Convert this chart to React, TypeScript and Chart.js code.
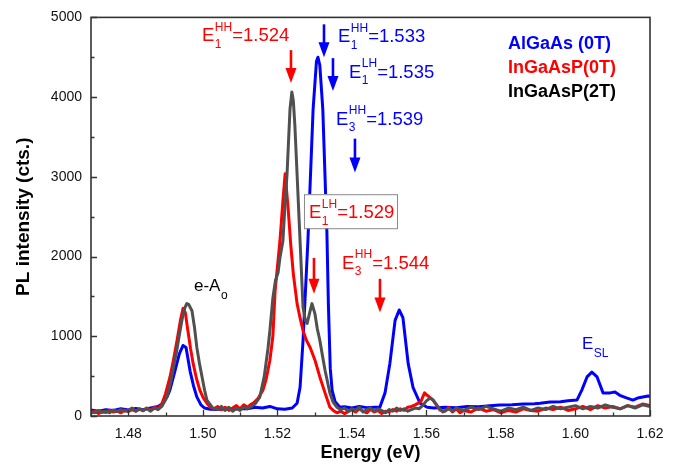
import React, { useEffect, useRef } from "react";
import { Chart, registerables } from "chart.js";

Chart.register(...registerables);

const FONT = "'Liberation Sans', Arial, Helvetica, sans-serif";
const BLUE = "#0000ff";
const RED = "#ff0000";
const GRAY = "#505050";

// ---------- data ----------
const SERIES_NAMES = ["AlGaAs (0T)", "InGaAsP(0T)", "InGaAsP(2T)"];
const X_TICKS = [1.48, 1.5, 1.52, 1.54, 1.56, 1.58, 1.6, 1.62];
const Y_TICKS = [0, 1000, 2000, 3000, 4000, 5000];

const ALGAAS_E = [
  1.47, 1.472, 1.474, 1.476, 1.478, 1.48, 1.482, 1.484, 1.486, 1.488, 1.4893, 1.4905, 1.4912, 1.4925,
  1.4937, 1.4947, 1.4955, 1.4966, 1.4975, 1.4984, 1.4995, 1.5005, 1.502, 1.504, 1.506, 1.508, 1.51,
  1.512, 1.514, 1.516, 1.518, 1.52, 1.522, 1.524, 1.5253, 1.5261, 1.5269, 1.5282, 1.5296, 1.5305,
  1.5309, 1.5314, 1.5322, 1.5328, 1.5333, 1.5337, 1.5342, 1.5347, 1.5355, 1.5368, 1.538, 1.54, 1.542,
  1.544, 1.546, 1.5475, 1.5489, 1.5502, 1.5516, 1.5527, 1.5537, 1.5551, 1.5564, 1.5583, 1.5602, 1.562,
  1.565, 1.568, 1.571, 1.574, 1.577, 1.5797, 1.583, 1.586, 1.589, 1.5905, 1.5932, 1.596, 1.598, 1.6004,
  1.6017, 1.6031, 1.6044, 1.6058, 1.6074, 1.6093, 1.6106, 1.6119, 1.6135, 1.6154, 1.617, 1.6195, 1.62,
];
const ALGAAS_I = [
  75, 60, 80, 70, 90, 75, 95, 80, 100, 120, 160, 250, 330, 560,
  780, 885, 860, 560, 380, 240, 140, 100, 85, 80, 90, 85, 95,
  90, 110, 100, 120, 90, 85, 100, 160, 360, 950, 2195, 3850, 4450,
  4500, 4400, 3850, 3000, 2300, 1400, 600, 320, 180, 110, 115, 100, 120,
  105, 110, 110, 290, 660, 1200, 1330, 1235, 660, 360, 160, 110, 100,
  110, 105, 120, 115, 130, 137, 140, 150, 155, 160, 175, 180, 190, 200,
  325, 490, 550, 490, 290, 290, 300, 260, 230, 200, 230, 250, 245,
];

const INGAASP0_E = [
  1.47, 1.471, 1.472, 1.473, 1.474, 1.475, 1.476, 1.477, 1.478, 1.479, 1.48, 1.481, 1.482, 1.483, 1.484,
  1.485, 1.486, 1.487, 1.488, 1.489, 1.49, 1.4912, 1.4922, 1.4931, 1.494, 1.4947, 1.4953, 1.496, 1.4967,
  1.4974, 1.4983, 1.4992, 1.5001, 1.5011, 1.502, 1.503, 1.504, 1.505, 1.506, 1.507, 1.508, 1.509, 1.51,
  1.511, 1.512, 1.513, 1.5135, 1.5148, 1.5161, 1.517, 1.518, 1.5188, 1.5194, 1.5207, 1.5215, 1.5221,
  1.5229, 1.5236, 1.5243, 1.5253, 1.5261, 1.5269, 1.5278, 1.5288, 1.5301, 1.5314, 1.5328, 1.5341, 1.535,
  1.536, 1.537, 1.538, 1.539, 1.54, 1.541, 1.542, 1.543, 1.544, 1.545, 1.546, 1.547, 1.548, 1.549, 1.55,
  1.551, 1.552, 1.553, 1.554, 1.555, 1.556, 1.557, 1.5585, 1.5595, 1.5602, 1.561, 1.5618, 1.5625, 1.5636,
  1.565, 1.566, 1.567, 1.568, 1.569, 1.57, 1.572, 1.574, 1.576, 1.578, 1.58, 1.582, 1.584, 1.586, 1.588,
  1.59, 1.592, 1.594, 1.596, 1.598, 1.6, 1.602, 1.604, 1.606, 1.608, 1.61, 1.612, 1.614, 1.616, 1.618, 1.62,
];
const INGAASP0_I = [
  40, 60, 30, 55, 45, 70, 50, 65, 40, 75, 55, 80, 60, 90, 65,
  100, 75, 110, 90, 150, 280, 490, 720, 950, 1200, 1350, 1300, 1070, 850,
  660, 470, 325, 230, 160, 110, 90, 120, 80, 110, 70, 100, 130, 90,
  140, 110, 150, 160, 220, 320, 460, 700, 1000, 1570, 2195, 2700, 3040,
  2600, 2150, 1780, 1410, 1230, 1070, 950, 860, 700, 490, 290, 110, 70,
  40, 60, 30, 55, 80, 50, 90, 60, 40, 85, 50, 70, 30, 60, 50,
  80, 60, 90, 70, 110, 120, 140, 180, 290, 260, 230, 200, 150, 75,
  60, 110, 50, 90, 40, 70, 50, 100, 60, 80, 40, 70, 50, 90, 70,
  60, 100, 80, 110, 70, 90, 120, 80, 130, 100, 120, 90, 130, 110, 150, 130,
];

const INGAASP2_E = [
  1.47, 1.471, 1.472, 1.473, 1.474, 1.475, 1.476, 1.477, 1.478, 1.479, 1.48, 1.481, 1.482, 1.483, 1.484,
  1.485, 1.486, 1.487, 1.488, 1.489, 1.4904, 1.4912, 1.492, 1.493, 1.4939, 1.4946, 1.4952, 1.4957, 1.4962,
  1.4971, 1.4978, 1.4984, 1.4991, 1.4998, 1.5005, 1.5011, 1.5027, 1.504, 1.505, 1.506, 1.507, 1.508, 1.509,
  1.51, 1.511, 1.512, 1.513, 1.514, 1.5153, 1.5165, 1.5175, 1.518, 1.5188, 1.5195, 1.5202, 1.5207, 1.5215,
  1.522, 1.5226, 1.5234, 1.5239, 1.5243, 1.5247, 1.5253, 1.5261, 1.5269, 1.5275, 1.528, 1.5287, 1.5293,
  1.5301, 1.5307, 1.5314, 1.5321, 1.5328, 1.5335, 1.5341, 1.535, 1.536, 1.537, 1.538, 1.539, 1.54, 1.541,
  1.542, 1.543, 1.544, 1.545, 1.546, 1.547, 1.548, 1.549, 1.55, 1.551, 1.552, 1.553, 1.554, 1.555, 1.556,
  1.557, 1.558, 1.5591, 1.56, 1.561, 1.5618, 1.5628, 1.5636, 1.5644, 1.566, 1.567, 1.568, 1.57, 1.572,
  1.574, 1.576, 1.578, 1.58, 1.582, 1.584, 1.586, 1.588, 1.59, 1.592, 1.594, 1.596, 1.598, 1.6, 1.602,
  1.604, 1.606, 1.608, 1.61, 1.612, 1.614, 1.616, 1.618, 1.62,
];
const INGAASP2_I = [
  50, 40, 70, 45, 60, 40, 75, 55, 80, 60, 70, 100, 60, 85, 70,
  95, 60, 100, 80, 120, 237, 380, 574, 820, 1070, 1250, 1360, 1410, 1400,
  1320, 1100, 860, 660, 490, 320, 200, 100, 80, 120, 70, 110, 60, 95,
  70, 110, 90, 120, 150, 237, 500, 850, 1070, 1480, 1700, 1800, 1985, 2195,
  2600, 3030, 3850, 4065, 3950, 3650, 3030, 2195, 1360, 1200, 1160, 1300, 1410,
  1280, 1100, 950, 760, 574, 420, 290, 170, 110, 80, 100, 60, 90, 70,
  110, 50, 80, 100, 60, 90, 70, 40, 80, 60, 100, 70, 90, 60, 80,
  100, 90, 137, 190, 225, 200, 137, 90, 50, 90, 60, 100, 70, 110,
  80, 120, 90, 60, 100, 80, 110, 70, 100, 80, 120, 90, 110, 130, 90,
  120, 100, 140, 110, 90, 130, 100, 140, 120,
];

// transition labels: anchor (energy, intensity) of the text baseline start
const LEVEL_BASE = ["E", "E", "E", "E", "E", "E", "e-A", "E"];
const LEVEL_SUB = ["1", "1", "1", "3", "1", "3", "o", "SL"];
const LEVEL_SUP = ["HH", "HH", "LH", "HH", "LH", "HH", "", ""];
const LEVEL_VALUE = ["=1.524", "=1.533", "=1.535", "=1.539", "=1.529", "=1.544", "", ""];
const LEVEL_SERIES = [1, 0, 0, 0, 1, 1, 2, 0];
const LEVEL_E = [1.49978, 1.53627, 1.53922, 1.53574, 1.52849, 1.53735, 1.49764, 1.60174];
const LEVEL_I = [4701, 4688, 4240, 3653, 2481, 1845, 1571, 835];
const LEVEL_BOXED = [false, false, false, false, true, false, false, false];

// arrows: energy, start intensity, tip intensity
const ARROW_E = [1.52366, 1.53252, 1.53493, 1.54083, 1.52983, 1.54754];
const ARROW_FROM = [4589, 4913, 4489, 3479, 1983, 1721];
const ARROW_TO = [4177, 4501, 4077, 3055, 1534, 1297];
const ARROW_SERIES = [1, 0, 0, 0, 1, 1];

const SERIES_COLORS = [BLUE, RED, "#000000"];
const LINE_COLORS = [BLUE, RED, GRAY];

function pts(e: number[], v: number[]) {
  return e.map((x, k) => ({ x, y: v[k] }));
}

function drawLevel(ctx: CanvasRenderingContext2D, px: number, py: number, k: number) {
  const size = LEVEL_BASE[k] === "E" && LEVEL_VALUE[k] ? 18.5 : 17;
  const small = 12;
  ctx.fillStyle = k === 6 ? "#000" : SERIES_COLORS[LEVEL_SERIES[k]];
  ctx.textAlign = "left";
  ctx.textBaseline = "alphabetic";
  ctx.font = `${size}px ${FONT}`;
  ctx.fillText(LEVEL_BASE[k], px, py);
  let w = ctx.measureText(LEVEL_BASE[k]).width;
  ctx.font = `${small}px ${FONT}`;
  let ws = 0;
  let wp = 0;
  const subOff = LEVEL_VALUE[k] ? 6.5 : 8;
  if (LEVEL_SUB[k]) {
    ctx.fillText(LEVEL_SUB[k], px + w + 0.5, py + subOff);
    ws = ctx.measureText(LEVEL_SUB[k]).width;
  }
  if (LEVEL_SUP[k]) {
    ctx.fillText(LEVEL_SUP[k], px + w + 0.5, py - 10.5);
    wp = ctx.measureText(LEVEL_SUP[k]).width;
  }
  w += Math.max(ws, wp) + 0.5;
  if (LEVEL_VALUE[k]) {
    ctx.font = `${size}px ${FONT}`;
    ctx.fillText(LEVEL_VALUE[k], px + w, py);
    w += ctx.measureText(LEVEL_VALUE[k]).width;
  }
  return w;
}

const decorPlugin = {
  id: "decor",
  afterDatasetsDraw(chart: any) {
    const { ctx, chartArea: ca, scales } = chart;
    const xs = scales.x;
    const ys = scales.y;
    ctx.save();

    // inward tick marks (major + minor)
    ctx.strokeStyle = "#333";
    ctx.lineWidth = 1.3;
    ctx.beginPath();
    for (let k = 0; k <= 15; k++) {
      const v = 1.47 + k * 0.01;
      const px = Math.round(xs.getPixelForValue(v)) + 0.5;
      const major = X_TICKS.some((t) => Math.abs(t - v) < 1e-6);
      ctx.moveTo(px, ca.bottom);
      ctx.lineTo(px, ca.bottom - (major ? 6 : 3.5));
    }
    for (let k = 0; k <= 10; k++) {
      const v = k * 500;
      const py = Math.round(ys.getPixelForValue(v)) + 0.5;
      const major = Y_TICKS.includes(v);
      ctx.moveTo(ca.left, py);
      ctx.lineTo(ca.left + (major ? 6 : 3.5), py);
    }
    ctx.stroke();

    // frame
    ctx.strokeStyle = "#333";
    ctx.lineWidth = 1.6;
    ctx.strokeRect(ca.left, ca.top, ca.right - ca.left, ca.bottom - ca.top);

    // arrows
    for (let k = 0; k < ARROW_E.length; k++) {
      const color = SERIES_COLORS[ARROW_SERIES[k]];
      const px = xs.getPixelForValue(ARROW_E[k]);
      const y0 = ys.getPixelForValue(ARROW_FROM[k]);
      const y1 = ys.getPixelForValue(ARROW_TO[k]);
      const head = 15;
      const hw = 5.5;
      ctx.strokeStyle = color;
      ctx.fillStyle = color;
      ctx.lineWidth = 2.6;
      ctx.beginPath();
      ctx.moveTo(px, y0);
      ctx.lineTo(px, y1 - head + 2);
      ctx.stroke();
      ctx.beginPath();
      ctx.moveTo(px - hw, y1 - head);
      ctx.lineTo(px + hw, y1 - head);
      ctx.lineTo(px, y1);
      ctx.closePath();
      ctx.fill();
    }

    // level labels
    for (let k = 0; k < LEVEL_E.length; k++) {
      const px = xs.getPixelForValue(LEVEL_E[k]);
      const py = ys.getPixelForValue(LEVEL_I[k]);
      if (LEVEL_BOXED[k]) {
        ctx.font = `18.5px ${FONT}`;
        ctx.fillStyle = "#fff";
        ctx.fillRect(px - 5, py - 24, 93, 34);
        ctx.strokeStyle = "#8a8a8a";
        ctx.lineWidth = 1;
        ctx.strokeRect(px - 5 + 0.5, py - 24 + 0.5, 93, 34);
      }
      drawLevel(ctx, px, py, k);
    }

    // legend (text only)
    ctx.textAlign = "left";
    ctx.textBaseline = "alphabetic";
    ctx.font = `bold 18px ${FONT}`;
    for (let k = 0; k < SERIES_NAMES.length; k++) {
      ctx.fillStyle = SERIES_COLORS[k];
      ctx.fillText(SERIES_NAMES[k], ca.left + 417, ca.top + 32 + k * 24);
    }
    ctx.restore();
  },
};

export default function App() {
  const ref = useRef<HTMLCanvasElement | null>(null);

  useEffect(() => {
    if (!ref.current) return;
    const chart = new Chart(ref.current, {
      type: "line",
      data: {
        datasets: [
          { label: SERIES_NAMES[0], data: pts(ALGAAS_E, ALGAAS_I), borderColor: LINE_COLORS[0], order: 3 },
          { label: SERIES_NAMES[1], data: pts(INGAASP0_E, INGAASP0_I), borderColor: LINE_COLORS[1], order: 2 },
          { label: SERIES_NAMES[2], data: pts(INGAASP2_E, INGAASP2_I), borderColor: LINE_COLORS[2], order: 1 },
        ].map((d) => ({
          ...d,
          borderWidth: 3,
          pointRadius: 0,
          fill: false,
          tension: 0,
          borderJoinStyle: "round" as const,
        })),
      },
      options: {
        animation: false,
        responsive: false,
        devicePixelRatio: 1,
        layout: { padding: { left: 0, top: 15, right: 29, bottom: 0 } },
        plugins: { legend: { display: false }, tooltip: { enabled: false } },
        events: [],
        scales: {
          x: {
            type: "linear",
            min: 1.47,
            max: 1.62,
            afterBuildTicks: (s: any) => {
              s.ticks = X_TICKS.map((value) => ({ value }));
            },
            afterFit: (s: any) => {
              s.height = 60;
            },
            grid: { display: false, drawTicks: false },
            border: { display: false },
            ticks: {
              color: "#111",
              font: { family: FONT, size: 14 },
              padding: 10,
              maxRotation: 0,
              autoSkip: false,
              callback: (v: any) => Number(v).toFixed(2),
            },
            title: {
              display: true,
              text: "Energy (eV)",
              color: "#000",
              font: { family: FONT, size: 18, weight: "bold" },
              padding: { top: 0, bottom: 12 },
            },
          },
          y: {
            type: "linear",
            min: 0,
            max: 5000,
            afterBuildTicks: (s: any) => {
              s.ticks = Y_TICKS.map((value) => ({ value }));
            },
            afterFit: (s: any) => {
              s.width = 91;
            },
            grid: { display: false, drawTicks: false },
            border: { display: false },
            ticks: {
              color: "#111",
              font: { family: FONT, size: 14 },
              padding: 9,
              autoSkip: false,
              callback: (v: any) => String(v),
            },
            title: {
              display: true,
              text: "PL intensity (cts.)",
              color: "#000",
              font: { family: FONT, size: 19, weight: "bold" },
              padding: { top: 12, bottom: 0 },
            },
          },
        },
      },
      plugins: [decorPlugin],
    });
    return () => chart.destroy();
  }, []);

  return (
    <div style={{ position: "absolute", left: 0, top: 0, width: 679, height: 476, background: "#fff" }}>
      <canvas ref={ref} width={679} height={476} style={{ width: 679, height: 476, display: "block" }} />
    </div>
  );
}
